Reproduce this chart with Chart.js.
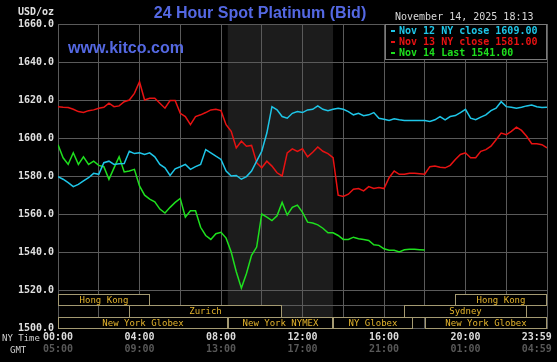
<!DOCTYPE html>
<html>
<head>
<meta charset="utf-8">
<script src="https://cdn.jsdelivr.net/npm/chart.js@4.4.0/dist/chart.umd.min.js"></script>
<style>
  html, body { margin: 0; padding: 0; background: #000; }
  #wrap { width: 557px; height: 362px; }
</style>
</head>
<body>
<div id="wrap"><canvas id="spotChart" width="557" height="362"></canvas></div>
<script>
// values, one point every 15 minutes (NY time)
const stepMinutes = 15;
const seriesNames = ['Nov 12 NY close 1609.00', 'Nov 13 NY close 1581.00', 'Nov 14 Last 1541.00'];

const nov12 = [
  1579.7, 1578.3, 1576.5, 1574.4, 1575.6, 1577.4, 1579.1, 1581.4, 1580.9, 1587, 1587.8,
  1586.1, 1586.4, 1586.6, 1593, 1591.8, 1592.2, 1591.3, 1592.2, 1590.1, 1586.1, 1584.3,
  1580.3, 1583.8, 1584.9, 1586.1, 1583.5, 1584.9, 1586.1, 1593.9, 1592.2, 1590.4, 1588.7,
  1582.6, 1580, 1580.3, 1578.3, 1579.7, 1582.6, 1587.8, 1593, 1602.6, 1616.5, 1614.8,
  1611.3, 1610.4, 1613, 1613.9, 1613.4, 1614.8, 1615.1, 1616.9, 1615.1, 1614.4, 1615.1,
  1615.7, 1615.1, 1613.9, 1612.2, 1613, 1611.7, 1612.2, 1613.4, 1610.4, 1609.9, 1609.2,
  1610.1, 1609.6, 1609.2, 1609.2, 1609.2, 1609.2, 1609.2, 1608.7, 1609.6, 1611.3, 1609.6,
  1611.3, 1611.8, 1613.4, 1615.1, 1610.4, 1609.6, 1611, 1612.2, 1614.4, 1615.7, 1619.1,
  1616.5, 1616.2, 1615.7, 1616.2, 1616.9, 1617.4, 1616.5, 1616, 1616.2
];
const nov13 = [
  1616.5, 1616.2, 1616, 1615.1, 1613.9, 1613.4, 1614.4, 1614.8, 1615.7, 1616.2, 1618.3,
  1616.5, 1616.9, 1619.1, 1620, 1623.5, 1629.6, 1620, 1620.9, 1620.9, 1618.3, 1615.7,
  1619.7, 1619.7, 1613, 1611.3, 1607, 1611.3, 1612.2, 1613.4, 1614.8, 1615.1, 1614.4,
  1607, 1603.5, 1594.8, 1598.3, 1595.7, 1596.1, 1587, 1584.3, 1587.8, 1585.2, 1581.7,
  1580, 1592.2, 1594.3, 1593, 1594.3, 1590.1, 1592.5, 1595.3, 1593, 1591.8, 1589.6,
  1569.9, 1569.2, 1570.4, 1573, 1573.4, 1572.2, 1574.4, 1573.4, 1573.9, 1573.4, 1579.1,
  1582.6, 1580.9, 1580.9, 1581.4, 1581.4, 1581.2, 1580.9, 1584.9, 1585.2, 1584.6, 1584.3,
  1585.6, 1588.7, 1591.3, 1592.2, 1589.6, 1589.6, 1593, 1593.9, 1595.7, 1599.1, 1602.6,
  1601.7, 1603.5, 1605.7, 1604, 1600.9, 1597, 1597, 1596.5, 1594.8
];
const nov14 = [
  1596.5, 1589.6, 1586.1, 1592.2, 1586.1, 1590.1, 1586.1, 1587.8, 1585.6, 1584.9, 1578.3,
  1584.3, 1590.1, 1582.1, 1582.6, 1583.5, 1574.8, 1569.9, 1567.8, 1566.4, 1562.6, 1560.5,
  1563.5, 1566.1, 1568.2, 1558.3, 1561.7, 1561.7, 1553, 1548.7, 1546.6, 1549.6, 1550.4,
  1547.3, 1540, 1529.6, 1521, 1528.7, 1538.3, 1542.6, 1560, 1558.3, 1556.5, 1559.1,
  1566.1, 1559.5, 1563.5, 1564.7, 1560.9, 1555.7, 1555.3, 1554.3, 1552.5, 1550.1, 1550.1,
  1548.7, 1546.6, 1546.6, 1547.8, 1547, 1546.6, 1546.1, 1543.8, 1543.5, 1541.7,
  1540.9, 1540.9, 1540, 1541.2, 1541.4, 1541.4, 1541.2, 1541
];

const yMin = 1500, yMax = 1660, yStep = 20;
const xTickValues = [0, 120, 240, 360, 480, 600, 720, 840, 960, 1080, 1200, 1320, 1410, 1440];
const lastTick = 1410;              // where the 23:59 label sits
const nymexShade = [500, 810];      // 08:20 - 13:30 NY
const marketRows = [
  [['Hong Kong', 0, 270], ['Hong Kong', 1170, 1440]],
  [['Zurich', 210, 660], ['Sydney', 1020, 1380]],
  [['New York Globex', 0, 500], ['New York NYMEX', 500, 810], ['NY Globex', 810, 1045], ['New York Globex', 1080, 1440]]
];

const colors = ['#1ec6e8', '#e81212', '#1ee01e'];
const gridColor = '#5a5a5a';
const mono = "'DejaVu Sans Mono', monospace";

const toPoints = vals => vals.map((v, i) => ({ x: i * stepMinutes, y: v }));
const hhmm = m => String(Math.floor(m / 60) % 24).padStart(2, '0') + ':' + String(m % 60).padStart(2, '0');

const kitcoDecor = {
  id: 'kitcoDecor',
  beforeDraw(chart) {
    const { ctx, chartArea: a, scales: { x } } = chart;
    ctx.save();
    ctx.fillStyle = '#000';
    ctx.fillRect(0, 0, chart.width, chart.height);
    const s = x.getPixelForValue(nymexShade[0]), e = x.getPixelForValue(nymexShade[1]);
    ctx.fillStyle = '#1c1c1c';
    ctx.fillRect(s, a.top, e - s, a.bottom - a.top);
    ctx.restore();
  },
  afterDatasetsDraw(chart) {
    const { ctx, chartArea: a, scales: { x } } = chart;
    const rowH = 34 / 3;
    const top = a.bottom - 34;
    ctx.save();
    ctx.strokeStyle = gridColor;
    ctx.lineWidth = 1;
    for (let r = 1; r < 3; r++) {
      const y = Math.round(top + r * rowH) + 0.5;
      ctx.beginPath(); ctx.moveTo(a.left, y); ctx.lineTo(a.right, y); ctx.stroke();
    }
    ctx.font = '9px ' + mono;
    ctx.textAlign = 'center';
    ctx.textBaseline = 'middle';
    marketRows.forEach((row, r) => {
      const y0 = Math.round(top + r * rowH);
      const y1 = Math.round(top + (r + 1) * rowH);
      row.forEach(([name, from, to]) => {
        const x0 = Math.round(x.getPixelForValue(from));
        const x1 = Math.round(x.getPixelForValue(to));
        ctx.fillStyle = '#000';
        ctx.fillRect(x0, y0, x1 - x0, y1 - y0);
        ctx.strokeStyle = '#a49a72';
        ctx.strokeRect(x0 + 0.5, y0 + 0.5, x1 - x0 - 1, y1 - y0);
        ctx.fillStyle = '#e4b42c';
        ctx.fillText(name, (x0 + x1) / 2, (y0 + y1) / 2 + 1);
      });
    });
    ctx.restore();
  },
  afterDraw(chart) {
    const { ctx } = chart;
    ctx.save();
    ctx.textBaseline = 'middle';
    // title + site
    ctx.fillStyle = '#5468e2';
    ctx.font = "bold 16px 'Liberation Sans', Arial, sans-serif";
    ctx.textAlign = 'center';
    ctx.fillText('24 Hour Spot Platinum (Bid)', 260, 14);
    ctx.textAlign = 'left';
    ctx.fillText('www.kitco.com', 68, 49);
    // units and axis captions
    ctx.fillStyle = '#e0e0e0';
    ctx.font = 'bold 10px ' + mono;
    ctx.textAlign = 'right';
    ctx.fillText('USD/oz', 54, 12);
    ctx.font = '9px ' + mono;
    ctx.textAlign = 'left';
    ctx.fillStyle = '#d0d0d0';
    ctx.fillText('NY Time', 2, 339);
    ctx.fillText('GMT', 10, 351);
    // timestamp
    ctx.font = '10px ' + mono;
    ctx.fillStyle = '#d8d8d8';
    ctx.fillText('November 14, 2025 18:13', 395, 17);
    // legend box
    ctx.fillStyle = '#000';
    ctx.fillRect(385, 24, 162, 36);
    ctx.strokeStyle = '#7a7a7a';
    ctx.strokeRect(385.5, 24.5, 161, 35);
    ctx.font = 'bold 10px ' + mono;
    chart.data.datasets.forEach((ds, i) => {
      const y = 31 + i * 11;
      ctx.fillStyle = ds.borderColor;
      ctx.fillRect(391, y - 1, 4, 2);
      ctx.fillText(ds.label, 399, y);
    });
    ctx.restore();
  }
};

new Chart(document.getElementById('spotChart'), {
  type: 'line',
  data: {
    datasets: [nov12, nov13, nov14].map((vals, i) => ({
      label: seriesNames[i],
      data: toPoints(vals),
      borderColor: colors[i],
      borderWidth: 1.5,
      pointRadius: 0,
      tension: 0
    }))
  },
  options: {
    responsive: false,
    animation: false,
    devicePixelRatio: 1,
    layout: { padding: { top: 24, right: 10, left: 0, bottom: 0 } },
    plugins: { legend: { display: false }, tooltip: { enabled: false } },
    scales: {
      y: {
        min: yMin, max: yMax,
        ticks: {
          stepSize: yStep, padding: 4, color: '#e0e0e0',
          font: { family: mono, size: 10, weight: 'bold' },
          callback: v => v.toFixed(1)
        },
        grid: { color: gridColor, drawTicks: false },
        border: { color: gridColor },
        afterFit: s => { s.width = 58; }
      },
      x: {
        type: 'linear', min: 0, max: 1440, weight: 0,
        afterBuildTicks: s => { s.ticks = xTickValues.map(v => ({ value: v })); },
        ticks: {
          autoSkip: false, maxRotation: 0, padding: 3, color: '#dcdcdc',
          font: { family: mono, size: 10, weight: 'bold' },
          callback: v => v === lastTick ? '23:59' : (v % 240 === 0 && v < 1440 ? hhmm(v) : '')
        },
        grid: {
          drawTicks: false,
          color: c => (c.tick && c.tick.value === lastTick) ? 'rgba(0,0,0,0)' : gridColor
        },
        border: { color: gridColor },
        afterFit: s => { s.height = 12; }
      },
      gmt: {
        type: 'linear', position: 'bottom', min: 0, max: 1440, weight: 1,
        afterBuildTicks: s => { s.ticks = xTickValues.map(v => ({ value: v })); },
        ticks: {
          autoSkip: false, maxRotation: 0, padding: 3, color: '#585858',
          font: { family: mono, size: 10, weight: 'bold' },
          callback: v => v === lastTick ? '04:59' : (v % 240 === 0 && v < 1440 ? hhmm((v + 300) % 1440) : '')
        },
        grid: { display: false, drawTicks: false },
        border: { display: false },
        afterFit: s => { s.height = 22; }
      }
    }
  },
  plugins: [kitcoDecor]
});
</script>
</body>
</html>
